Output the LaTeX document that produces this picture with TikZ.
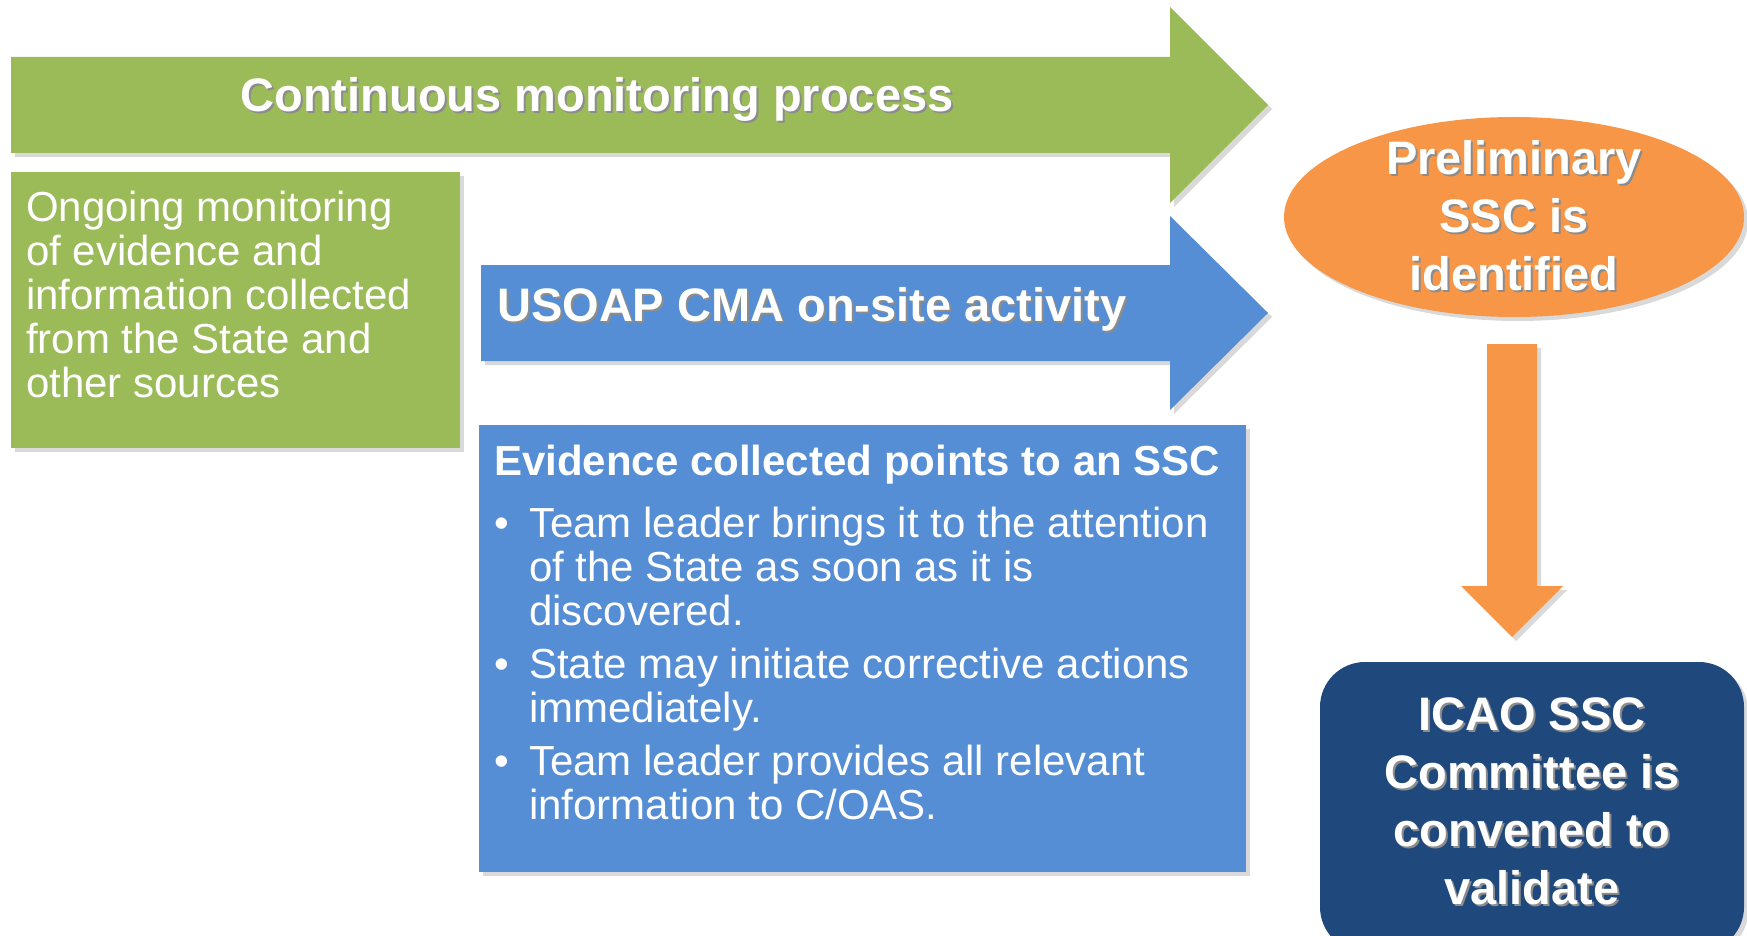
\documentclass[tikz,border=0pt]{standalone}
\usepackage{fontspec}
\setmainfont{Liberation Sans}
\usepackage{tikz}
\usetikzlibrary{shapes.geometric, shadows}
\definecolor{cmgreen}{HTML}{9BBB59}
\definecolor{cmblue}{HTML}{558ED5}
\definecolor{cmorange}{HTML}{F79646}
\definecolor{cmnavy}{HTML}{1F497D}
\newcommand{\shtxt}[1]{\leavevmode\rlap{\kern2pt\raisebox{-2pt}{\textcolor{black!45}{#1}}}#1}
\newcommand{\ssctitle}{\fontsize{47}{58}\selectfont\bfseries}
\newcommand{\sscbody}{\fontsize{42}{44}\selectfont}

\begin{document}
\begin{tikzpicture}[x=1pt, y=-1pt,
		boxshadow/.style={drop shadow={shadow xshift=4pt, shadow yshift=-4pt, opacity=0.3}},
		every node/.style={text=white}]
			\useasboundingbox (0,0) rectangle (1747,936);
			\fill[cmgreen, boxshadow] (11,57) -- (1170,57) -- (1170,7) -- (1268,105) -- (1170,203) -- (1170,153) -- (11,153) -- cycle;
			\node[anchor=base, font=\ssctitle] (cmp) at (597,112) {\shtxt{Continuous monitoring process}};
			\fill[cmgreen, boxshadow] (11,172) rectangle (460,448);
			\node[anchor=north west, align=left, inner sep=0, font=\sscbody] (ongoing) at (26,191) {Ongoing monitoring\\of evidence and\\information collected\\from the State and\\other sources};
			\fill[cmblue, boxshadow] (481,265) -- (1170,265) -- (1170,216) -- (1268,313) -- (1170,410) -- (1170,361) -- (481,361) -- cycle;
			\node[anchor=base west, inner sep=0, font=\ssctitle] (usoap) at (497,321) {\shtxt{USOAP CMA on-site activity}};
			\fill[cmblue, boxshadow] (479,425) rectangle (1246,872);
			\node[anchor=base west, inner sep=0, font=\sscbody\bfseries] (evidence) at (494,475) {Evidence collected points to an SSC};
			\node[anchor=north west, align=left, inner sep=0, font=\sscbody] (bullets) at (494,507) {\makebox[35pt][l]{\textbullet}Team leader brings it to the attention\\\hspace*{35pt}of the State as soon as it is\\\hspace*{35pt}discovered.\\[9pt]\makebox[35pt][l]{\textbullet}State may initiate corrective actions\\\hspace*{35pt}immediately.\\[9pt]\makebox[35pt][l]{\textbullet}Team leader provides all relevant\\\hspace*{35pt}information to C/OAS.};
			\coordinate (prelimc) at (1514,217);
			\fill[cmorange, boxshadow] (prelimc) ellipse [x radius=230, y radius=100];
			\node[align=center, inner sep=0, font=\ssctitle] (prelim) at (prelimc) {\shtxt{Preliminary}\\\shtxt{SSC is}\\\shtxt{identified}};
			\fill[cmorange, boxshadow] (1487,344) -- (1537,344) -- (1537,586) -- (1563,586) -- (1512,637) -- (1461,586) -- (1487,586) -- cycle;
			\fill[cmnavy, boxshadow, rounded corners=45pt] (1320,662) rectangle (1744,952);
			\node[align=center, font=\ssctitle] (committee) at (1532,802) {\shtxt{ICAO SSC}\\\shtxt{Committee is}\\\shtxt{convened to}\\\shtxt{validate}};
		\end{tikzpicture}
\end{document}
